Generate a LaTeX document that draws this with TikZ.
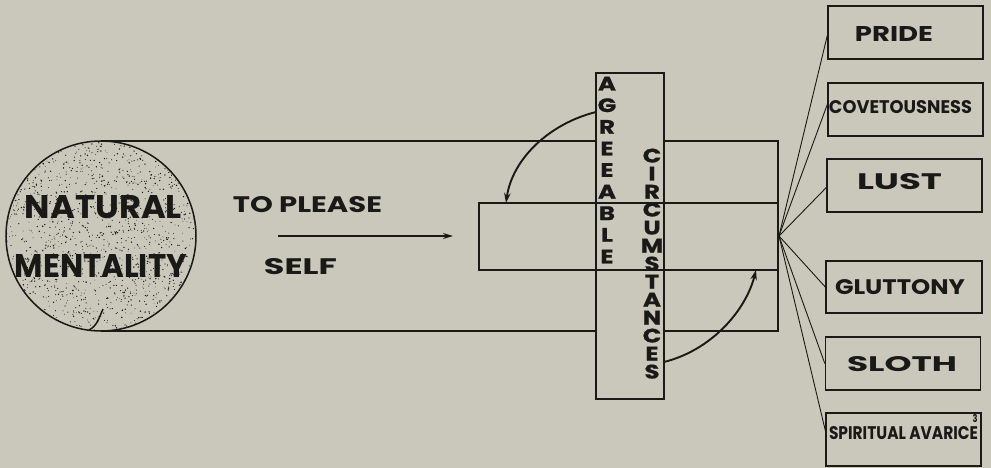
\documentclass[tikz,border=0pt]{standalone}
\usepackage{fontspec}
\usepackage{graphicx}
\setmainfont{Poppins}
\newfontfamily\vfont{Poppins}[BoldFeatures={FakeBold=0.8}]
\usetikzlibrary{arrows.meta}
\definecolor{paper}{RGB}{201,200,186}
\definecolor{ink}{RGB}{25,25,22}
\newcommand\fitlbl[3]{\resizebox{#1pt}{#2pt}{\bfseries #3}}
\newcommand\vlet[1]{\scalebox{1.25}[1]{\vfont\fontsize{19.5}{19.5}\selectfont\bfseries #1}}
\begin{document}
\begin{tikzpicture}[x=1pt,y=-1pt,
  boxline/.style={draw=ink, line width=1.4pt},
  sinbox/.style={draw=ink, line width=1.4pt, rectangle, minimum width=155pt, minimum height=53pt, inner sep=0pt},
  lbl/.style={inner sep=0pt, text=ink},
  vl/.style={inner sep=0pt, text=ink, text height=13pt, text depth=0pt},
  fan/.style={draw=ink, line width=0.9pt},
  arr/.style={draw=ink, line width=1.9pt, -{Stealth[length=10pt,width=6.5pt]}}]
\fill[paper] (0,0) rectangle (991,468);
\useasboundingbox (0,0) rectangle (991,468);

% outer rectangle
\draw[boxline] (101,141) -- (778,141) -- (778,331) -- (101,331);

% vertical box
\node[boxline, fill=paper, rectangle, minimum width=68pt, minimum height=326pt, inner sep=0pt] (vbox) at (630,236) {};

% inner rectangle
\node[boxline, rectangle, minimum width=299pt, minimum height=67pt, inner sep=0pt] (inner) at (628.5,236.5) {};

% letters
\foreach \ch [count=\i from 0] in {A,G,R,E,E,A,B,L,E}
  \node[vl] (ag\i) at (607,{84+21.6*\i}) {\vlet{\ch}};
\foreach \ch [count=\i from 0] in {C,I,R,C,U,M,S,T,A,N,C,E,S}
  \node[vl] (ci\i) at (652,{156+18*\i}) {\vlet{\ch}};

% curved arrows
\coordinate (a1s) at (596,112);
\coordinate (a1e) at (506,203);
\coordinate (a2s) at (664,362);
\coordinate (a2e) at (756,270);
\draw[arr] (a1s) .. controls (548,124) and (512,160) .. (a1e);
\draw[arr] (a2s) .. controls (712,350) and (746,310) .. (a2e);

% circle
\node[circle, draw=ink, line width=1.5pt, fill=paper, minimum size=190pt, inner sep=0pt] (mind) at (101,236) {};
\begin{scope}
  \clip (101,236) circle (94pt);
  \pgfmathsetseed{7}
  \foreach \k in {1,...,1500}{
    \pgfmathsetmacro\dx{95*rand}
    \pgfmathsetmacro\dy{95*rand}
    \pgfmathsetmacro\rr{0.35+0.45*rnd}
    \fill[ink] (101+\dx,236+\dy) circle (\rr pt);
  }
\end{scope}
\draw[ink, line width=1.5pt] (89,330) .. controls (97,326) and (99,318) .. (103,309);
\node[lbl] (nat) at (103.5,207) {\fitlbl{157}{23}{NATURAL}};
\node[lbl] (men) at (101,266) {\fitlbl{172}{23}{MENTALITY}};

% to please self
\node[lbl] (tp) at (307.5,205) {\fitlbl{149}{16}{TO PLEASE}};
\node[lbl] (self) at (300.5,267) {\fitlbl{73}{16}{SELF}};
\coordinate (ps) at (278,236);
\coordinate (pe) at (453,236);
\draw[draw=ink, line width=1.4pt, -{Stealth[length=10pt,width=6pt]}] (ps) -- (pe);

% sin boxes
\node[sinbox] (pride) at (905.5,32.5) {};
\node[sinbox] (covet) at (905.5,109.5) {};
\node[sinbox] (lust) at (904.5,185.5) {};
\node[sinbox, minimum width=156pt, minimum height=52pt] (glut) at (904,287) {};
\node[sinbox] (sloth) at (903,363.5) {};
\node[sinbox] (spir) at (903.5,439.5) {};

\node[lbl] (tpride) at (894,34) {\fitlbl{78}{15}{PRIDE}};
\node[lbl] (tcovet) at (900.5,107) {\fitlbl{143}{13}{COVETOUSNESS}};
\node[lbl] (tlust) at (899.5,182) {\fitlbl{85}{16}{LUST}};
\node[lbl] (tglut) at (900,287) {\fitlbl{130}{15}{GLUTTONY}};
\node[lbl] (tsloth) at (902,364) {\fitlbl{110}{15}{SLOTH}};
\node[lbl] (tspir) at (903.5,433) {\fitlbl{149}{13}{SPIRITUAL AVARICE}};
\node[lbl] (sup) at (975,419) {\fitlbl{5}{8}{3}};

% fan
\coordinate (hub) at (779,236);
\draw[fan] (hub) -- ([yshift=-3pt]pride.west);
\draw[fan] (hub) -- ([yshift=5pt]covet.west);
\draw[fan] (hub) -- ([yshift=-2pt]lust.west);
\draw[fan] (hub) -- (glut.west);
\draw[fan] (hub) -- (sloth.west);
\draw[fan] (hub) -- ([yshift=9pt]spir.west);
\end{tikzpicture}
\end{document}
